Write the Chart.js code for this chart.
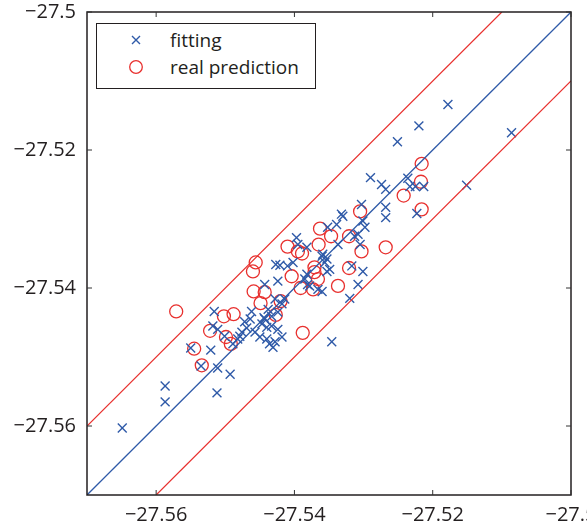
<!DOCTYPE html>
<html>
<head>
<meta charset="utf-8">
<script src="https://cdn.jsdelivr.net/npm/chart.js@4"></script>
<style>
  html, body { margin: 0; padding: 0; background: #fff; }
  #wrap { position: relative; width: 587px; height: 527px; }
  #legend {
    position: absolute; left: 96px; top: 23px; width: 220px; height: 66px;
    border: 1.5px solid #231f20; background: #fff; box-sizing: border-box;
    font-family: "Open Sans", sans-serif; font-size: 19px; color: #231f20;
  }
  .row { position: absolute; left: 0; height: 26px; line-height: 26px; }
  .row svg { position: absolute; left: 32px; top: 6px; }
  .row span { position: absolute; left: 73px; white-space: nowrap; }
</style>
</head>
<body>
<div id="wrap">
  <canvas id="c" width="587" height="527"></canvas>
  <div id="legend">
    <div class="row" style="top:3px">
      <svg width="14" height="14"><path d="M3 3 L11 11 M11 3 L3 11" stroke="#2f5aa8" stroke-width="1.4" fill="none"/></svg>
      <span>fitting</span>
    </div>
    <div class="row" style="top:30px">
      <svg width="16" height="16" style="left:31px;top:5px"><circle cx="8" cy="8" r="6.3" stroke="#e8302e" stroke-width="1.3" fill="none"/></svg>
      <span>real prediction</span>
    </div>
  </div>
</div>
<script>
// ---- data ----
const fitX = [-27.5649,-27.5587,-27.5587,-27.5512,-27.5493,-27.5511,-27.5535,-27.5550,-27.5521,-27.5516,
  -27.5518,-27.5511,-27.5501,-27.5489,-27.5482,-27.5476,-27.5469,-27.5472,-27.5464,-27.5462,
  -27.5457,-27.5450,-27.5440,-27.5436,-27.5431,-27.5428,-27.5447,-27.5440,-27.5433,-27.5424,
  -27.5443,-27.5438,-27.5433,-27.5424,-27.5418,-27.5428,-27.5414,-27.5418,-27.5443,-27.5424,
  -27.5427,-27.5421,-27.5410,-27.5402,-27.5395,-27.5397,-27.5385,-27.5381,-27.5382,-27.5378,
  -27.5366,-27.5360,-27.5360,-27.5353,-27.5356,-27.5349,-27.5353,-27.5359,-27.5382,-27.5352,
  -27.5339,-27.5337,-27.5332,-27.5330,-27.5303,-27.5301,-27.5298,-27.5308,-27.5305,-27.5317,
  -27.5301,-27.5308,-27.5320,-27.5346,-27.5290,-27.5274,-27.5268,-27.5236,-27.5233,-27.5225,
  -27.5213,-27.5223,-27.5268,-27.5268,-27.5151,-27.5086,-27.5178,-27.5220,-27.5251,-27.5313,
  -27.5479,-27.5444];
const fitY = [-27.5603,-27.5542,-27.5565,-27.5552,-27.5525,-27.5516,-27.5513,-27.5487,-27.5490,-27.5434,
  -27.5455,-27.5460,-27.5470,-27.5481,-27.5474,-27.5464,-27.5458,-27.5449,-27.5445,-27.5434,
  -27.5464,-27.5471,-27.5474,-27.5481,-27.5486,-27.5478,-27.5452,-27.5457,-27.5455,-27.5460,
  -27.5445,-27.5431,-27.5441,-27.5435,-27.5423,-27.5416,-27.5416,-27.5471,-27.5395,-27.5390,
  -27.5366,-27.5367,-27.5368,-27.5363,-27.5337,-27.5327,-27.5387,-27.5395,-27.5380,-27.5397,
  -27.5402,-27.5405,-27.5354,-27.5358,-27.5363,-27.5373,-27.5376,-27.5351,-27.5341,-27.5312,
  -27.5308,-27.5337,-27.5293,-27.5296,-27.5279,-27.5303,-27.5312,-27.5322,-27.5337,-27.5368,
  -27.5376,-27.5395,-27.5415,-27.5478,-27.5240,-27.5250,-27.5257,-27.5241,-27.5253,-27.5253,
  -27.5253,-27.5292,-27.5283,-27.5298,-27.5251,-27.5175,-27.5134,-27.5165,-27.5188,-27.5325,
  -27.5470,-27.5443];
const predX = [-27.5571,-27.5545,-27.5534,-27.5522,-27.5499,-27.5492,-27.5502,-27.5488,-27.5456,-27.5460,
  -27.5459,-27.5443,-27.5449,-27.5420,-27.5427,-27.5410,-27.5395,-27.5389,-27.5365,-27.5404,
  -27.5371,-27.5371,-27.5366,-27.5391,-27.5373,-27.5388,-27.5363,-27.5347,-27.5321,-27.5305,
  -27.5337,-27.5321,-27.5303,-27.5268,-27.5242,-27.5216,-27.5217,-27.5216];
const predY = [-27.5434,-27.5488,-27.5512,-27.5462,-27.5471,-27.5481,-27.5441,-27.5438,-27.5363,-27.5376,
  -27.5405,-27.5406,-27.5422,-27.5419,-27.5439,-27.5340,-27.5347,-27.5350,-27.5337,-27.5383,
  -27.5370,-27.5377,-27.5387,-27.5400,-27.5402,-27.5465,-27.5314,-27.5325,-27.5325,-27.5289,
  -27.5397,-27.5371,-27.5347,-27.5341,-27.5266,-27.5220,-27.5246,-27.5286];
const axisMin = -27.57, axisMax = -27.50, bandOffset = 0.01;
const xTickValues = [-27.56, -27.54, -27.52, -27.50];
const xTickLabels = ['\u221227.56', '\u221227.54', '\u221227.52', '\u221227.5'];
const yTickValues = [-27.56, -27.54, -27.52, -27.50];
const yTickLabels = ['\u221227.56', '\u221227.54', '\u221227.52', '\u221227.5'];

// ---- style ----
const BLUE = '#2f5aa8', RED = '#e8302e', INK = '#231f20';
const FONT = { family: '"Open Sans", sans-serif', size: 20 };

const zip = (xs, ys) => xs.map((x, i) => ({ x: x, y: ys[i] }));

const framePlugin = {
  id: 'frame',
  afterDatasetsDraw(chart) {
    const { ctx, chartArea: a, scales } = chart;
    ctx.save();
    ctx.strokeStyle = INK;
    ctx.lineWidth = 1.5;
    ctx.strokeRect(a.left, a.top, a.right - a.left, a.bottom - a.top);
    ctx.lineWidth = 1;
    ctx.strokeStyle = '#333';
    const tl = 5;
    ctx.beginPath();
    xTickValues.forEach(v => {
      const p = scales.x.getPixelForValue(v);
      ctx.moveTo(p, a.bottom); ctx.lineTo(p, a.bottom - tl);
      ctx.moveTo(p, a.top); ctx.lineTo(p, a.top + tl);
    });
    yTickValues.forEach(v => {
      const p = scales.y.getPixelForValue(v);
      ctx.moveTo(a.left, p); ctx.lineTo(a.left + tl, p);
      ctx.moveTo(a.right, p); ctx.lineTo(a.right - tl, p);
    });
    ctx.stroke();
    ctx.restore();
  }
};

new Chart(document.getElementById('c'), {
  type: 'scatter',
  data: {
    datasets: [
      { label: 'fitting', data: zip(fitX, fitY), pointStyle: 'crossRot', pointRadius: 6.3,
        borderColor: BLUE, backgroundColor: BLUE, pointBorderWidth: 1.4, order: 2 },
      { label: 'real prediction', data: zip(predX, predY), pointStyle: 'circle', pointRadius: 6.5,
        borderColor: RED, backgroundColor: 'rgba(0,0,0,0)', pointBorderWidth: 1.3, order: 3 },
      { label: 'y=x', data: [{ x: axisMin, y: axisMin }, { x: axisMax, y: axisMax }],
        showLine: true, borderColor: BLUE, borderWidth: 1.3, pointRadius: 0, order: 1 },
      { label: 'upper', data: [{ x: axisMin, y: axisMin + bandOffset }, { x: axisMax - bandOffset, y: axisMax }],
        showLine: true, borderColor: RED, borderWidth: 1.2, pointRadius: 0, order: 1 },
      { label: 'lower', data: [{ x: axisMin + bandOffset, y: axisMin }, { x: axisMax, y: axisMax - bandOffset }],
        showLine: true, borderColor: RED, borderWidth: 1.2, pointRadius: 0, order: 1 }
    ]
  },
  options: {
    responsive: false,
    animation: false,
    devicePixelRatio: 1,
    layout: { padding: { top: 12, right: 16, left: 0, bottom: 0 } },
    plugins: { legend: { display: false }, tooltip: { enabled: false } },
    scales: {
      x: {
        type: 'linear', min: axisMin, max: axisMax,
        grid: { display: false, drawTicks: false }, border: { display: false },
        afterBuildTicks: s => { s.ticks = xTickValues.map(v => ({ value: v })); },
        ticks: { callback: (v, i) => xTickLabels[i], font: FONT, color: INK, padding: 8,
                 maxRotation: 0, autoSkip: false },
        afterFit: s => { s.height = 32; s.paddingLeft = 0; s.paddingRight = 0; }
      },
      y: {
        type: 'linear', min: axisMin, max: axisMax,
        grid: { display: false, drawTicks: false }, border: { display: false },
        afterBuildTicks: s => { s.ticks = yTickValues.map(v => ({ value: v })); },
        ticks: { callback: (v, i) => yTickLabels[i], font: FONT, color: INK, padding: 11,
                 autoSkip: false },
        afterFit: s => { s.width = 87; s.paddingTop = 0; s.paddingBottom = 0; }
      }
    }
  },
  plugins: [framePlugin]
});
</script>
</body>
</html>
